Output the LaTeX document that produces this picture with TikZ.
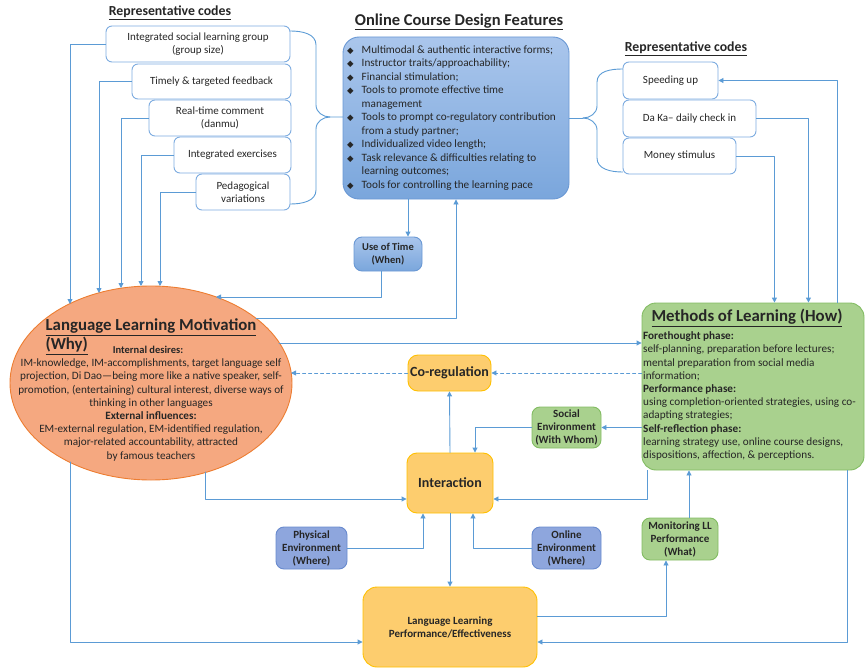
\documentclass[tikz,border=0pt]{standalone}
\usepackage{fontspec}
\setmainfont{Carlito}
\newfontfamily\symfont{DejaVu Sans}
\usetikzlibrary{arrows.meta,shapes.geometric,positioning,calc}
\definecolor{lineblue}{RGB}{91,155,213}
\definecolor{codeblue}{RGB}{125,172,224}
\definecolor{txtgray}{RGB}{38,38,38}
\definecolor{courseedge}{RGB}{106,152,212}
\definecolor{coursetop}{RGB}{170,198,236}
\definecolor{coursebot}{RGB}{122,166,220}
\definecolor{salmon}{RGB}{245,168,128}
\definecolor{salmonedge}{RGB}{237,125,49}
\definecolor{leaf}{RGB}{169,209,142}
\definecolor{leafedge}{RGB}{130,188,98}
\definecolor{sun}{RGB}{253,205,110}
\definecolor{sunedge}{RGB}{255,192,0}
\definecolor{envblue}{RGB}{142,166,221}
\definecolor{envedge}{RGB}{104,138,206}
\newcommand\txtbody{\fontsize{11.2}{13.2}\selectfont}
\newcommand\txtlist{\fontsize{11.2}{13.5}\selectfont}
\newcommand\txtcode{\fontsize{11}{13}\selectfont}
\newcommand\txthead{\fontsize{13.8}{15}\selectfont\bfseries}
\newcommand\txtbig{\fontsize{16.8}{18}\selectfont\bfseries}
\newcommand\txtsmallb{\fontsize{11}{13}\selectfont\bfseries}
\newcommand\txtmidb{\fontsize{14}{16}\selectfont\bfseries}
\newcommand\dm{{\symfont\fontsize{8.5}{8.5}\selectfont ◆}}

\begin{document}
\begin{tikzpicture}[x=1pt,y=-1pt,line cap=round,line join=round,
  every node/.append style={text=txtgray},
  conn/.style={draw=lineblue,line width=0.9pt},
  arr/.style={conn,-{Triangle[length=5pt,width=5pt]}},
  dasharr/.style={arr,dash pattern=on 3pt off 3pt},
  codebox/.style={draw=codeblue,line width=0.9pt,fill=white,rounded corners=6pt,
    inner sep=0pt,align=center,font=\txtcode},
  bluebox/.style={draw=courseedge,line width=0.9pt,top color=coursetop,bottom color=coursebot,
    rounded corners=8pt,inner sep=0pt,align=center,font=\txtsmallb},
  greenbox/.style={draw=leafedge,line width=0.9pt,fill=leaf,rounded corners=8pt,
    inner sep=0pt,align=center,font=\txtsmallb},
  sunbox/.style={draw=sunedge,line width=0.9pt,fill=sun,rounded corners=10pt,
    inner sep=0pt,align=center,font=\txtsmallb},
  envbox/.style={draw=envedge,line width=0.9pt,fill=envblue,rounded corners=8pt,
    inner sep=0pt,align=center,font=\txtsmallb}]
  \useasboundingbox (0,0) rectangle (868,669);

  \node[font=\txthead] (lefthead) at (170,13) {\underline{Representative codes}};
  \node[font=\txthead] (righthead) at (686,49) {\underline{Representative codes}};
  \node[font=\fontsize{16.5}{18}\selectfont\bfseries] (odfhead) at (459,22) {\underline{Online Course Design Features}};

  \node[codebox,minimum width=184,minimum height=36] (isl) at (198,44) {Integrated social learning group\\(group size)};
  \node[codebox,minimum width=159,minimum height=35] (ttf) at (211.5,81.5) {Timely \& targeted feedback};
  \node[codebox,minimum width=142,minimum height=36] (rtc) at (220,118) {Real-time comment\\(danmu)};
  \node[codebox,minimum width=117,minimum height=36] (iex) at (232.5,155) {Integrated exercises};
  \node[codebox,minimum width=94,minimum height=36] (ped) at (243,192) {Pedagogical\\variations};

  \node[codebox,minimum width=95,minimum height=37] (spd) at (670.5,80.5) {Speeding up};
  \node[codebox,minimum width=133,minimum height=37] (dak) at (689.5,118.5) {Da Ka– daily check in};
  \node[codebox,minimum width=113,minimum height=36] (mon) at (679.5,156) {Money stimulus};

  \node[bluebox,rounded corners=16pt,minimum width=226,minimum height=162] (odf) at (456,118) {};
  \node[font=\txtlist,anchor=west,inner sep=0pt] (odflist) at (347,118)
    {\begin{tabular}{@{}c@{\hspace{8pt}}l@{}}
     \dm & Multimodal \& authentic interactive forms;\\
     \dm & Instructor traits/approachability;\\
     \dm & Financial stimulation;\\
     \dm & Tools to promote effective time\\
         & management\\
     \dm & Tools to prompt co-regulatory contribution\\
         & from a study partner;\\
     \dm & Individualized video length;\\
     \dm & Task relevance \& difficulties relating to\\
         & learning outcomes;\\
     \dm & Tools for controlling the learning pace
     \end{tabular}};
  \node[bluebox,minimum width=68,minimum height=34,font=\fontsize{10.5}{12.5}\selectfont\bfseries] (time) at (388,254) {Use of Time\\(When)};

  \node[ellipse,draw=salmonedge,line width=0.9pt,fill=salmon,inner sep=0pt,
    minimum width=282,minimum height=194] (llm) at (151,383) {};
  \node[font=\txtbig] (llmtitle) at (151,327) {\underline{Language Learning Motivation}};
  \node[font=\txtbig,anchor=west] (llmwhy) at (42,346) {\underline{(Why)}};
  \node[font=\fontsize{10.5}{12}\selectfont\bfseries] (llmint) at (148,350) {Internal desires:};
  \node[font=\txtbody,align=center] (llmtext) at (151,410)
    {IM-knowledge, IM-accomplishments, target language self\\
     projection, Di Dao—being more like a native speaker, self-\\
     promotion, (entertaining) cultural interest, diverse ways of\\
     thinking in other languages\\
     \textbf{External influences:}\\
     EM-external regulation, EM-identified regulation,\\
     major-related accountability, attracted\\
     by famous teachers};

  \node[greenbox,rounded corners=14pt,minimum width=222,minimum height=167] (meth) at (753,386.5) {};
  \node[font=\txtbig] (methtitle) at (747,318) {\underline{Methods of Learning (How)}};
  \node[font=\txtbody,align=left,anchor=west,inner sep=0pt] (methtext) at (643,396)
    {\textbf{Forethought phase:}\\
     self-planning, preparation before lectures;\\
     mental preparation from social media\\
     information;\\
     \textbf{Performance phase:}\\
     using completion-oriented strategies, using co-\\
     adapting strategies;\\
     \textbf{Self-reflection phase:}\\
     learning strategy use, online course designs,\\
     dispositions, affection, \& perceptions.};

  \node[sunbox,minimum width=83,minimum height=36,font=\txtmidb] (coreg) at (449.5,373) {Co-regulation};
  \node[sunbox,minimum width=86,minimum height=60,font=\txtmidb] (inter) at (450,483) {Interaction};
  \node[sunbox,rounded corners=14pt,minimum width=174,minimum height=80] (llpe) at (450,627)
    {Language Learning\\Performance/Effectiveness};
  \node[greenbox,minimum width=69,minimum height=41] (soc) at (566.5,427.5) {Social\\Environment\\(With Whom)};
  \node[greenbox,minimum width=76,minimum height=42] (moni) at (680,539) {Monitoring LL\\Performance\\(What)};
  \node[envbox,minimum width=71,minimum height=42] (phys) at (311.5,548) {Physical\\Environment\\(Where)};
  \node[envbox,minimum width=69,minimum height=42] (onl) at (566.5,548) {Online\\Environment\\(Where)};

  \coordinate (m1) at (70,304);
  \coordinate (m2) at (99,293);
  \coordinate (m3) at (121,288);
  \coordinate (m4) at (141,286);
  \coordinate (m5) at (160,286);
  \coordinate (e1) at (279,343);
  \coordinate (e2) at (291,373);
  \coordinate (e3) at (205,472);
  \coordinate (e4) at (70,462);
  \coordinate (e5) at (216,297);
  \coordinate (e6) at (256,318);
  \coordinate (lb) at (330,117);
  \coordinate (rb) at (583,118);

  \draw[conn] (isl.east |- 0,31) to[out=0,in=90] (316,45) -- (316,105) to[out=-90,in=180] (lb) -- (odf.west |- lb);
  \draw[conn] (ped.east |- 0,204) to[out=0,in=-90] (316,190) -- (316,129) to[out=90,in=180] (lb);
  \draw[conn] (odf.east) -- (rb);
  \draw[conn] (rb) to[out=0,in=-90] (597,106) -- (597,82) to[out=90,in=180] (spd.west |- 0,69);
  \draw[conn] (rb) to[out=0,in=90] (597,130) -- (597,158) to[out=-90,in=180] (mon.west |- 0,172);

  \draw[arr] (isl.west) -| (m1);
  \draw[arr] (ttf.west) -| (m2);
  \draw[arr] (rtc.west) -| (m3);
  \draw[arr] (iex.west) -| (m4);
  \draw[arr] (ped.west) -| (m5);

  \draw[arr] ([xshift=-27pt]meth.north east) |- (spd.east);
  \draw[arr] (dak.east) -| ([xshift=-56pt]meth.north east);
  \draw[arr] (mon.east) -| ([xshift=-90pt]meth.north east);

  \draw[arr] ([xshift=20pt]time.north |- odf.south) -- ([xshift=20pt]time.north);
  \draw[arr] ([xshift=-7pt]time.south) |- (e5);
  \draw[arr] (e6) -| (odf.south);

  \draw[arr] (e1) -- (e1 -| meth.west);
  \draw[dasharr] (meth.west |- coreg) -- (coreg.east);
  \draw[dasharr] (coreg.west) -- (e2);
  \draw[arr] (meth.west |- soc) -- (soc.east);
  \draw[arr] (soc.west) -| ([xshift=25pt]inter.north);
  \draw[arr] (inter.north) -- (coreg.south);
  \draw[arr] (e3) |- ([yshift=-16pt]inter.west);
  \draw[arr] ([xshift=6pt]meth.south west) |- ([yshift=-16pt]inter.east);
  \draw[arr] (phys.east) -| ([xshift=-27pt]inter.south);
  \draw[arr] (onl.west) -| ([xshift=23pt]inter.south);
  \draw[arr] (inter.south) -- (llpe.north);
  \draw[arr] (e4) |- ([yshift=-15pt]llpe.west);
  \draw[arr] ([xshift=-17pt]meth.south east) |- ([yshift=-15pt]llpe.east);
  \draw[arr] ([yshift=11pt]llpe.east) -| ([xshift=-14pt]moni.south);
  \draw[arr] ([xshift=9pt]moni.north) -- ([xshift=9pt]moni.north |- meth.south);
\end{tikzpicture}
\end{document}
